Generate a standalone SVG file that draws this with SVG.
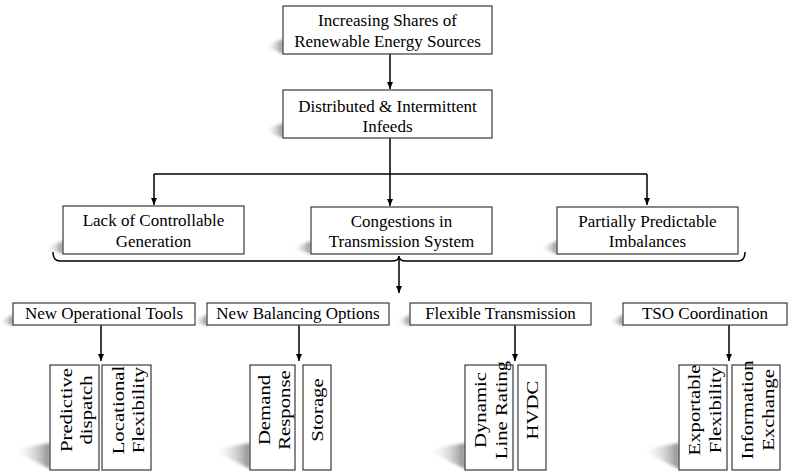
<svg xmlns="http://www.w3.org/2000/svg" width="794" height="471" viewBox="0 0 794 471">
<defs>
<linearGradient id="sh" x1="1" y1="0" x2="0" y2="0">
<stop offset="0" stop-color="#8c8c8c"/>
<stop offset="1" stop-color="#ffffff" stop-opacity="0"/>
</linearGradient>
<filter id="blur" x="-50%" y="-50%" width="200%" height="200%"><feGaussianBlur stdDeviation="1.5"/></filter>
<marker id="arr" markerWidth="8" markerHeight="8" refX="7" refY="4" orient="auto" markerUnits="userSpaceOnUse">
<path d="M0,1 L7,4 L0,7 Z" fill="#000"/>
</marker>
</defs>
<style>
.box{fill:#fff;stroke:#3a3a3a;stroke-width:1.2}
.shadow{fill:url(#sh);filter:url(#blur)}
.t{font-size:17px;fill:#000;text-anchor:middle}
.ln{fill:none;stroke:#000;stroke-width:1.5}
.arrow{fill:none;stroke:#000;stroke-width:1.5;marker-end:url(#arr)}
</style>
<rect width="794" height="471" fill="#fff"/>

<g id="connectors">
<path class="arrow" d="M390,54 L390,89"/>
<path class="ln" d="M390,138 L390,174 M154,174 L647,174"/>
<path class="arrow" d="M154,174 L154,205"/>
<path class="arrow" d="M390,174 L390,206"/>
<path class="arrow" d="M647,174 L647,205"/>
<path class="ln" d="M53,252 Q53,261 60,261 L392,261 Q399,261 399,256 Q399,261 406,261 L738,261 Q745,261 745,252"/>
<path class="arrow" d="M399,259 L399,293"/>
<path class="arrow" d="M101,325 L101,361"/>
<path class="arrow" d="M299,325 L299,361"/>
<path class="arrow" d="M515,325 L515,361"/>
<path class="arrow" d="M729,325 L729,361"/>
</g>

<g font-family="Liberation Serif, DejaVu Serif, serif">
<g id="n-res">
<polygon class="shadow" points="264,46 283,39 283,54"/>
<rect class="box" x="283" y="6" width="209" height="48"/>
<text class="t" x="387.5" y="26">Increasing Shares of</text>
<text class="t" x="387.5" y="47">Renewable Energy Sources</text>
</g>
<g id="n-dist">
<polygon class="shadow" points="264,130 283,123 283,138"/>
<rect class="box" x="283" y="90" width="209" height="48"/>
<text class="t" x="387.5" y="112">Distributed &amp; Intermittent</text>
<text class="t" x="387.5" y="132">Infeeds</text>
</g>

<g id="n-lack">
<polygon class="shadow" points="45,248 63,241 63,254"/>
<rect class="box" x="63" y="206" width="181" height="48"/>
<text class="t" x="153.5" y="226">Lack of Controllable</text>
<text class="t" x="153.5" y="247">Generation</text>
</g>
<g id="n-cong">
<polygon class="shadow" points="291,248 311,241 311,254"/>
<rect class="box" x="311" y="207" width="181" height="47"/>
<text class="t" x="401.5" y="227">Congestions in</text>
<text class="t" x="401.5" y="247">Transmission System</text>
</g>
<g id="n-part">
<polygon class="shadow" points="539,248 557,241 557,254"/>
<rect class="box" x="557" y="207" width="181" height="47"/>
<text class="t" x="647.5" y="227">Partially Predictable</text>
<text class="t" x="647.5" y="247">Imbalances</text>
</g>

<g id="n-ops">
<polygon class="shadow" points="-2,321 13,315 13,326"/>
<rect class="box" x="13" y="303" width="182" height="22"/>
<text class="t" x="104" y="319">New Operational Tools</text>
</g>
<g id="n-bal">
<polygon class="shadow" points="192,321 207,315 207,326"/>
<rect class="box" x="207" y="303" width="182" height="22"/>
<text class="t" x="298" y="319">New Balancing Options</text>
</g>
<g id="n-flex">
<polygon class="shadow" points="395,321 410,315 410,326"/>
<rect class="box" x="410" y="303" width="181" height="22"/>
<text class="t" x="500.5" y="319">Flexible Transmission</text>
</g>
<g id="n-tso">
<polygon class="shadow" points="608,321 623,315 623,326"/>
<rect class="box" x="623" y="303" width="164" height="22"/>
<text class="t" x="705" y="319">TSO Coordination</text>
</g>

<g id="n-pred">
<polygon class="shadow" points="12,450 50,443 50,469"/>
<rect class="box" x="50" y="365" width="49" height="105"/>
<text class="t" transform="translate(74.5,410) rotate(-90) scale(1.22,1)"><tspan x="0" y="-3">Predictive</tspan><tspan x="0" y="18">dispatch</tspan></text>
</g>
<g id="n-loc">
<rect class="box" x="102" y="365" width="49" height="105"/>
<text class="t" transform="translate(126.5,410) rotate(-90) scale(1.22,1)"><tspan x="0" y="-3">Locational</tspan><tspan x="0" y="18">Flexibility</tspan></text>
</g>
<g id="n-dem">
<polygon class="shadow" points="212,450 250,443 250,469"/>
<rect class="box" x="250" y="365" width="45" height="105"/>
<text class="t" transform="translate(272.5,410) rotate(-90) scale(1.22,1)"><tspan x="0" y="-3">Demand</tspan><tspan x="0" y="18">Response</tspan></text>
</g>
<g id="n-sto">
<rect class="box" x="303" y="365" width="28" height="105"/>
<text class="t" transform="translate(317,410) rotate(-90) scale(1.22,1)"><tspan x="0" y="6">Storage</tspan></text>
</g>
<g id="n-dlr">
<polygon class="shadow" points="427,450 465,443 465,469"/>
<rect class="box" x="465" y="365" width="48" height="105"/>
<text class="t" transform="translate(489,410) rotate(-90) scale(1.22,1)"><tspan x="0" y="-3">Dynamic</tspan><tspan x="0" y="18">Line Rating</tspan></text>
</g>
<g id="n-hvdc">
<rect class="box" x="518" y="365" width="28" height="105"/>
<text class="t" transform="translate(532,410) rotate(-90) scale(1.22,1)"><tspan x="0" y="6">HVDC</tspan></text>
</g>
<g id="n-exp">
<polygon class="shadow" points="641,450 679,443 679,469"/>
<rect class="box" x="679" y="365" width="48" height="105"/>
<text class="t" transform="translate(703,410) rotate(-90) scale(1.22,1)"><tspan x="0" y="-3">Exportable</tspan><tspan x="0" y="18">Flexibility</tspan></text>
</g>
<g id="n-info">
<rect class="box" x="732" y="365" width="48" height="105"/>
<text class="t" transform="translate(756,410) rotate(-90) scale(1.22,1)"><tspan x="0" y="-3">Information</tspan><tspan x="0" y="18">Exchange</tspan></text>
</g>
</g>
</svg>
